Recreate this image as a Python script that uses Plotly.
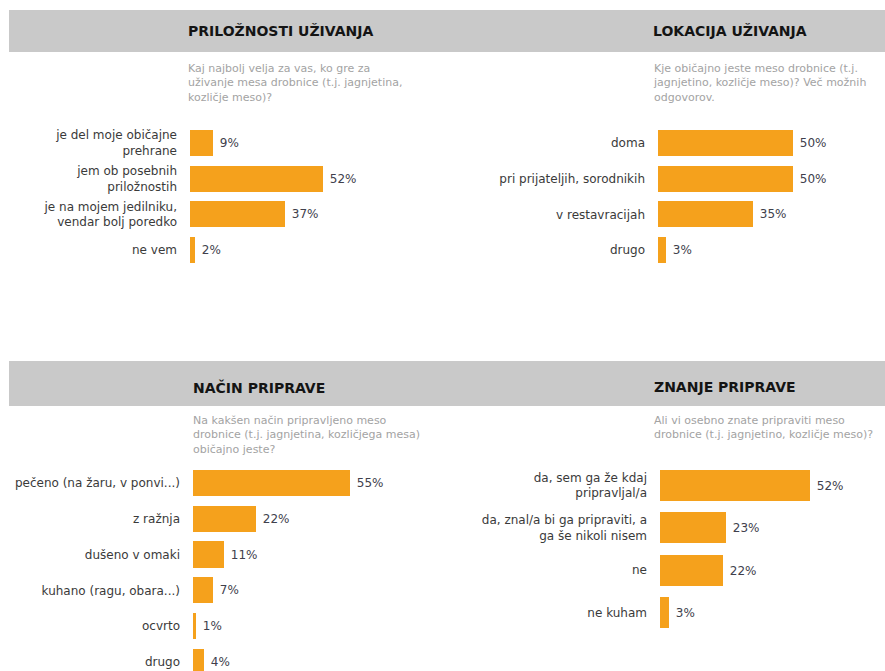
import plotly.graph_objects as go

W, H = 885, 671

# ---- data ----
cat_tl = ["je del moje običajne<br>prehrane", "jem ob posebnih<br>priložnostih",
          "je na mojem jedilniku,<br>vendar bolj poredko", "ne vem"]
val_tl = [9, 52, 37, 2]

cat_tr = ["doma", "pri prijateljih, sorodnikih", "v restavracijah", "drugo"]
val_tr = [50, 50, 35, 3]

cat_bl = ["pečeno (na žaru, v ponvi...)", "z ražnja", "dušeno v omaki",
          "kuhano (ragu, obara...)", "ocvrto", "drugo"]
val_bl = [55, 22, 11, 7, 1, 4]

cat_br = ["da, sem ga že kdaj<br>pripravljal/a", "da, znal/a bi ga pripraviti, a<br>ga še nikoli nisem",
          "ne", "ne kuham"]
val_br = [52, 23, 22, 3]

titles = ["PRILOŽNOSTI UŽIVANJA", "LOKACIJA UŽIVANJA", "NAČIN PRIPRAVE", "ZNANJE PRIPRAVE"]
subtitles = [
    "Kaj najbolj velja za vas, ko gre za<br>uživanje mesa drobnice (t.j. jagnjetina,<br>kozličje meso)?",
    "Kje običajno jeste meso drobnice (t.j.<br>jagnjetino, kozličje meso)? Več možnih<br>odgovorov.",
    "Na kakšen način pripravljeno meso<br>drobnice (t.j. jagnjetina, kozličjega mesa)<br>običajno jeste?",
    "Ali vi osebno znate pripraviti meso<br>drobnice (t.j. jagnjetino, kozličje meso)?",
]

ORANGE = "#F5A11C"
FONT = "DejaVu Sans"

def px_x(p):
    return p / W

def px_y(p):
    return (H - p) / H

fig = go.Figure()

panels = [
    (cat_tl, val_tl, "x", "y"),
    (cat_tr, val_tr, "x2", "y2"),
    (cat_bl, val_bl, "x3", "y3"),
    (cat_br, val_br, "x4", "y4"),
]
for cats, vals, xa, ya in panels:
    fig.add_trace(go.Bar(
        x=vals, y=cats, orientation="h", xaxis=xa, yaxis=ya,
        marker=dict(color=ORANGE, line=dict(width=0)),
        width=0.73,
        text=[f" {v}%" for v in vals], textposition="outside",
        textfont=dict(family=FONT, size=12, color="#40404c"),
        cliponaxis=False, showlegend=False, hoverinfo="skip",
    ))

xcommon = dict(visible=False, showgrid=False, zeroline=False, range=[0, 60])
ycommon = dict(showgrid=False, zeroline=False, showline=False, ticks="",
               tickfont=dict(family=FONT, size=12, color="#3a3a3a"),
               ticklabelstandoff=12, type="category")

fig.update_layout(
    width=W, height=H, margin=dict(l=0, r=0, t=0, b=0),
    paper_bgcolor="white", plot_bgcolor="white",
    bargap=0,
    xaxis=dict(xcommon, domain=[px_x(190), px_x(190 + 2.56 * 60)], anchor="y"),
    yaxis=dict(ycommon, domain=[px_y(268), px_y(125)], range=[3.5, -0.5], anchor="x"),
    xaxis2=dict(xcommon, domain=[px_x(658), px_x(658 + 2.7 * 60)], anchor="y2"),
    yaxis2=dict(ycommon, domain=[px_y(268), px_y(125)], range=[3.5, -0.5], anchor="x2"),
    xaxis3=dict(xcommon, domain=[px_x(193), px_x(193 + 2.85 * 60)], anchor="y3"),
    yaxis3=dict(ycommon, domain=[0, px_y(465)], range=[5.25, -0.5], anchor="x3"),
    xaxis4=dict(xcommon, domain=[px_x(660), px_x(660 + 2.88 * 60)], anchor="y4"),
    yaxis4=dict(ycommon, domain=[px_y(634), px_y(464)], range=[3.5, -0.5], anchor="x4"),
)

# grey header bands
for top, bot in [(10, 52), (361, 406)]:
    fig.add_shape(type="rect", xref="paper", yref="paper",
                  x0=px_x(9), x1=1, y0=px_y(bot), y1=px_y(top),
                  fillcolor="#C9C9C9", line=dict(width=0), layer="below")

title_pos = [(186, 31), (651, 31), (191, 387), (652, 387)]
sub_pos = [(186, 60), (651, 60), (191, 412), (652, 412)]
for t, (x, y) in zip(titles, title_pos):
    fig.add_annotation(text=f"<b>{t}</b>", xref="paper", yref="paper",
                       x=px_x(x), y=px_y(y), xanchor="left", yanchor="middle",
                       showarrow=False, font=dict(family=FONT, size=14, color="#141414"))
for s, (x, y) in zip(subtitles, sub_pos):
    fig.add_annotation(text=s, xref="paper", yref="paper",
                       x=px_x(x), y=px_y(y), xanchor="left", yanchor="top", align="left",
                       showarrow=False, font=dict(family=FONT, size=11, color="#a3a3a3"))

fig.write_html("out.html")
